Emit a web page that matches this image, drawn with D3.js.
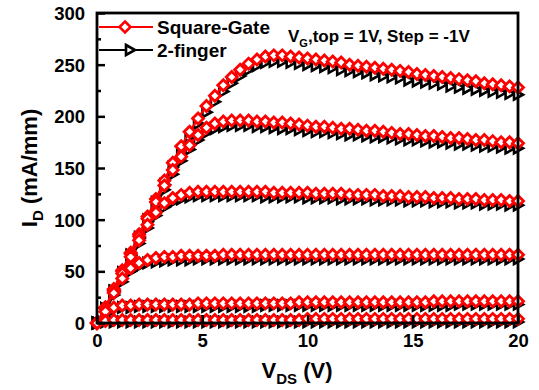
<!DOCTYPE html>
<html>
<head>
<meta charset="utf-8">
<script src="https://cdn.jsdelivr.net/npm/d3@7"></script>
<style>
  body { margin: 0; background: #fff; }
  text { font-family: "Liberation Sans", Arial, sans-serif; font-weight: bold; fill: #000; }
</style>
</head>
<body>
<div id="chart"></div>
<script>
// drain voltage sweep (V)
const vds = [0, 0.4, 0.8, 1.2, 1.6, 2.0, 2.4, 2.8, 3.2, 3.6, 4.0, 4.4, 4.8, 5.2, 5.6, 6.0, 6.4, 6.8, 7.2, 7.6,
  8.0, 8.4, 8.8, 9.2, 9.6, 10.0, 10.4, 10.8, 11.2, 11.6, 12.0, 12.4, 12.8, 13.2, 13.6, 14.0, 14.4, 14.8, 15.2, 15.6,
  16.0, 16.4, 16.8, 17.2, 17.6, 18.0, 18.4, 18.8, 19.2, 19.6, 20.0];

// Square-Gate, VG = 1 .. -4 V
const squareVg1 = [0, 15, 33, 51, 68, 86, 103, 120, 138, 155, 171, 185, 198, 210, 220, 230, 238, 245, 251, 255,
  258, 259, 259, 258, 257, 256, 255, 254, 253, 252, 250, 249, 248, 247, 246, 245, 244, 243, 241, 240,
  239, 238, 237, 236, 235, 234, 232, 231, 230, 229, 228];
const squareVg0 = [0, 15, 32, 50, 67, 84, 101, 117, 133, 148, 161, 172, 182, 189, 193, 195, 196, 196, 196, 195,
  195, 194, 194, 193, 192, 191, 190, 190, 189, 188, 188, 187, 186, 186, 185, 184, 183, 183, 182, 181,
  181, 180, 179, 179, 178, 177, 177, 176, 175, 175, 174];
const squareVgm1 = [0, 15, 31, 48, 64, 80, 95, 107, 116, 121, 124, 126, 127, 127, 127, 127, 127, 127, 127, 127,
  127, 126, 126, 126, 126, 126, 125, 125, 125, 125, 124, 124, 124, 124, 123, 123, 123, 122, 122, 122,
  121, 121, 121, 120, 120, 120, 119, 119, 119, 118, 118];
const squareVgm2 = [0, 14, 29, 43, 53, 58, 61, 63, 64, 64, 65, 65, 65, 65, 65, 66, 66, 66, 66, 66,
  66, 66, 66, 66, 66, 66, 66, 66, 66, 66, 66, 66, 66, 66, 66, 66, 66, 66, 66, 66,
  66, 66, 66, 66, 66, 66, 66, 66, 66, 66, 66];
const squareVgm3 = [0, 11, 15, 17, 17, 18, 18, 18, 18, 18, 18, 18, 19, 19, 19, 19, 19, 19, 19, 19,
  19, 19, 19, 19, 20, 20, 20, 20, 20, 20, 20, 20, 20, 20, 20, 20, 20, 20, 20, 20,
  21, 21, 21, 21, 21, 21, 21, 21, 21, 21, 21];
const squareVgm4 = [0, 2, 3, 3, 3, 3, 3, 3, 3, 3, 3, 3, 3, 3, 3, 3, 3, 3, 3, 3,
  3, 3, 3, 3, 3, 4, 4, 4, 4, 4, 4, 4, 4, 4, 4, 4, 4, 4, 4, 4,
  4, 4, 4, 4, 4, 4, 4, 4, 4, 4, 4];

// 2-finger, VG = 1 .. -4 V
const fingerVg1 = [0, 14, 31, 49, 66, 83, 100, 117, 134, 151, 166, 180, 193, 204, 214, 224, 232, 239, 245, 249,
  252, 253, 253, 252, 251, 250, 249, 248, 247, 245, 244, 243, 242, 240, 239, 238, 237, 235, 234, 233,
  232, 231, 229, 228, 227, 226, 225, 224, 223, 222, 221];
const fingerVg0 = [0, 14, 31, 48, 65, 82, 98, 114, 129, 144, 157, 168, 177, 184, 188, 190, 191, 191, 191, 190,
  190, 189, 188, 188, 187, 186, 185, 185, 184, 183, 182, 182, 181, 180, 180, 179, 178, 177, 177, 176,
  175, 175, 174, 173, 173, 172, 171, 171, 170, 169, 169];
const fingerVgm1 = [0, 14, 30, 46, 62, 77, 92, 104, 112, 117, 120, 122, 123, 123, 123, 123, 123, 123, 123, 123,
  122, 122, 122, 122, 122, 121, 121, 121, 121, 120, 120, 120, 120, 119, 119, 119, 119, 118, 118, 118,
  117, 117, 117, 116, 116, 116, 115, 115, 115, 114, 114];
const fingerVgm2 = [0, 13, 27, 40, 50, 55, 58, 59, 60, 61, 61, 61, 62, 62, 62, 62, 62, 62, 62, 62,
  62, 62, 62, 62, 62, 62, 62, 62, 62, 62, 62, 62, 62, 62, 62, 62, 62, 62, 62, 62,
  62, 62, 62, 62, 62, 62, 62, 62, 62, 62, 62];
const fingerVgm3 = [0, 10, 13, 15, 15, 16, 16, 16, 16, 16, 16, 16, 16, 16, 16, 16, 16, 16, 16, 16,
  17, 17, 17, 17, 17, 17, 17, 17, 17, 17, 17, 17, 17, 17, 17, 17, 17, 17, 17, 17,
  17, 17, 17, 18, 18, 18, 18, 18, 18, 18, 18];
const fingerVgm4 = [0, 1, 1, 1, 1, 1, 1, 1, 1, 1, 1, 1, 1, 1, 1, 1, 1, 1, 1, 1,
  1, 1, 1, 1, 1, 1, 1, 1, 1, 1, 1, 1, 1, 1, 1, 1, 1, 1, 1, 1,
  1, 1, 1, 1, 1, 1, 1, 1, 1, 1, 1];

const xTicks = [0, 5, 10, 15, 20];
const yTicks = [0, 50, 100, 150, 200, 250, 300];
const yMinorTicks = [25, 75, 125, 175, 225, 275];

const squareSeries = [squareVg1, squareVg0, squareVgm1, squareVgm2, squareVgm3, squareVgm4];
const fingerSeries = [fingerVg1, fingerVg0, fingerVgm1, fingerVgm2, fingerVgm3, fingerVgm4];

const width = 539, height = 390;
const margin = { top: 13, right: 21, bottom: 67, left: 97 };

const svg = d3.select("#chart").append("svg")
  .attr("width", width)
  .attr("height", height);

const x = d3.scaleLinear().domain([0, 20]).range([margin.left, width - margin.right]);
const y = d3.scaleLinear().domain([0, 300]).range([height - margin.bottom, margin.top]);

const diamond = "M0,-5.5L5.5,0L0,5.5L-5.5,0Z";
const triangle = "M-4,-5L5,0L-4,5Z";

function drawSeries(values, color, shape, sw) {
  const pts = vds.map((v, i) => [v, values[i]]);
  const line = d3.line().x(d => x(d[0])).y(d => y(d[1]));
  svg.append("path")
    .datum(pts)
    .attr("d", line)
    .attr("fill", "none")
    .attr("stroke", color)
    .attr("stroke-width", 2.2);
  svg.append("g").selectAll("path")
    .data(pts)
    .join("path")
    .attr("d", shape)
    .attr("transform", d => `translate(${x(d[0])},${y(d[1])})`)
    .attr("fill", "#fff")
    .attr("stroke", color)
    .attr("stroke-width", sw);
}

fingerSeries.forEach(s => drawSeries(s, "#000", triangle, 2.6));
squareSeries.forEach(s => drawSeries(s, "#ff0000", diamond, 2.8));

// axes (ticks point inward)
const yAxis = svg.append("g")
  .attr("transform", `translate(${margin.left},0)`)
  .call(d3.axisLeft(y).tickValues(yTicks).tickSize(-8).tickPadding(12));
svg.append("g")
  .attr("transform", `translate(${margin.left},0)`)
  .call(d3.axisLeft(y).tickValues(yMinorTicks).tickSize(-4).tickFormat(""));
const xAxis = svg.append("g")
  .attr("transform", `translate(0,${height - margin.bottom})`)
  .call(d3.axisBottom(x).tickValues(xTicks).tickSize(-8).tickPadding(10));

svg.selectAll(".domain").remove();
svg.selectAll(".tick line").attr("stroke", "#000").attr("stroke-width", 2.5);
yAxis.selectAll("text").style("font-size", "18.5px").attr("dy", "0.35em");
xAxis.selectAll("text").style("font-size", "18.5px").attr("dy", "0.75em");

svg.append("rect")
  .attr("x", margin.left)
  .attr("y", margin.top)
  .attr("width", width - margin.left - margin.right)
  .attr("height", height - margin.top - margin.bottom)
  .attr("fill", "none")
  .attr("stroke", "#000")
  .attr("stroke-width", 2.8);

// legend
const legend = [
  { name: "Square-Gate", color: "#ff0000", shape: diamond, y: 27, mx: 125 },
  { name: "2-finger", color: "#000", shape: triangle, y: 50, mx: 130 }
];
legend.forEach(l => {
  svg.append("line")
    .attr("x1", margin.left + 2).attr("x2", 153)
    .attr("y1", l.y).attr("y2", l.y)
    .attr("stroke", l.color).attr("stroke-width", 2.2);
  svg.append("path")
    .attr("d", l.shape)
    .attr("transform", `translate(${l.mx},${l.y})`)
    .attr("fill", "#fff").attr("stroke", l.color).attr("stroke-width", 2.6);
  svg.append("text")
    .attr("x", 157).attr("y", l.y + 7)
    .style("font-size", "19px")
    .text(l.name);
});

// gate bias note
const note = svg.append("text")
  .attr("x", 288).attr("y", 42)
  .style("font-size", "17px");
note.append("tspan").text("V");
note.append("tspan").attr("dy", 5).style("font-size", "11px").text("G");
note.append("tspan").attr("dy", -5).text(",top = 1V, Step = -1V");

// axis titles
const xt = svg.append("text")
  .attr("x", 297).attr("y", 378)
  .attr("text-anchor", "middle")
  .style("font-size", "22px");
xt.append("tspan").text("V");
xt.append("tspan").attr("dy", 6).style("font-size", "15px").text("DS");
xt.append("tspan").attr("dy", -6).text(" (V)");

const yt = svg.append("text")
  .attr("transform", "translate(37,168) rotate(-90)")
  .attr("text-anchor", "middle")
  .style("font-size", "22px");
yt.append("tspan").text("I");
yt.append("tspan").attr("dy", 6).style("font-size", "15px").text("D");
yt.append("tspan").attr("dy", -6).text(" (mA/mm)");
</script>
</body>
</html>
